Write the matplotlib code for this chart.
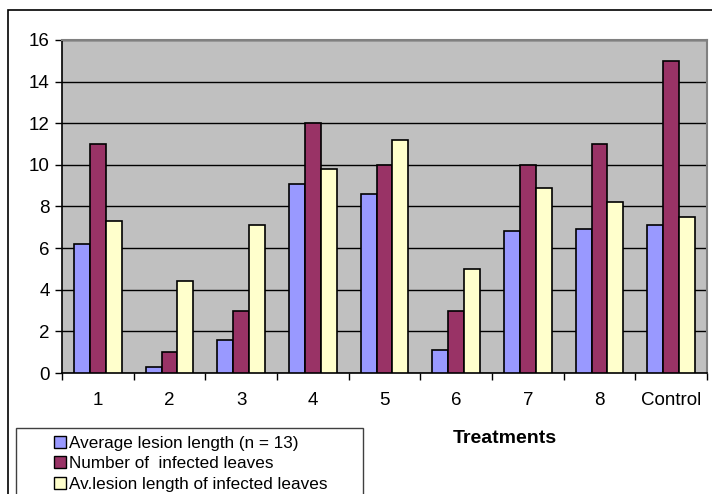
import matplotlib
matplotlib.use("Agg")
import matplotlib.pyplot as plt
from matplotlib.patches import Rectangle, Patch
import numpy as np

plt.rcParams['font.family'] = ['Liberation Sans', 'DejaVu Sans']

categories = ["1", "2", "3", "4", "5", "6", "7", "8", "Control"]
avg_lesion = [6.2, 0.3, 1.6, 9.1, 8.6, 1.1, 6.8, 6.9, 7.1]
num_infected = [11, 1, 3, 12, 10, 3, 10, 11, 15]
avg_infected = [7.3, 4.4, 7.1, 9.8, 11.2, 5.0, 8.9, 8.2, 7.5]
series_names = ["Average lesion length (n = 13)",
                "Number of  infected leaves",
                "Av.lesion length of infected leaves"]
colors = ["#9999FF", "#993366", "#FFFFCC"]

W, H = 712, 494
fig = plt.figure(figsize=(W / 100, H / 100), dpi=100)
ax = fig.add_axes([62 / W, (H - 373) / H, (707 - 62) / W, 333 / H])
ax.set_facecolor("#C0C0C0")

x = np.arange(len(categories))
bw = 0.223
for i, (vals, c) in enumerate(zip([avg_lesion, num_infected, avg_infected], colors)):
    ax.bar(x + (i - 1) * bw, vals, width=bw, color=c, edgecolor="black",
           linewidth=1.2, zorder=3, label=series_names[i])

ax.set_xlim(-0.5, len(categories) - 0.5)
ax.set_ylim(0, 16)
ax.set_yticks(np.arange(0, 17, 2))
ax.yaxis.grid(True, color="black", linewidth=1.0, zorder=1)
ax.set_axisbelow(True)

ax.set_xticks(x)
ax.set_xticklabels(categories, fontsize=13.5)
ax.tick_params(axis='x', which='major', length=0, pad=14)
ax.set_xticks(np.arange(-0.5, len(categories), 1), minor=True)
ax.tick_params(axis='x', which='minor', length=5, width=1, color="black", direction="out")
ax.tick_params(axis='y', labelsize=13.5, length=5, width=1, direction="out", pad=4)

for s in ["top", "right"]:
    ax.spines[s].set_color("#808080")
    ax.spines[s].set_linewidth(1.5)
for s in ["left", "bottom"]:
    ax.spines[s].set_color("black")
    ax.spines[s].set_linewidth(1.2)

# Outer chart border
fig.patches.append(Rectangle((8 / W, -0.05), 1.2, 1 - 10 / H + 0.05, transform=fig.transFigure,
                             fill=False, edgecolor="black", linewidth=1.2, clip_on=False))

# Legend box
fig.patches.append(Rectangle((16 / W, -0.05), (363 - 16) / W, (H - 428) / H + 0.05,
                             transform=fig.transFigure, fill=True, facecolor="white",
                             edgecolor="#404040", linewidth=1.0))
handles = [Patch(facecolor=c, edgecolor="black", linewidth=1.0) for c in colors]
fig.legend(handles, series_names, loc="upper left",
           bbox_to_anchor=(44 / W, 1 - 426 / H), frameon=False, fontsize=12.3,
           handlelength=0.7, handleheight=0.7, handletextpad=0.15,
           labelspacing=0.3, borderpad=0.1)

fig.text(505 / W, 1 - 438 / H, "Treatments", fontsize=14, fontweight="bold",
         ha="center", va="center")

fig.savefig("out.png", dpi=100)
